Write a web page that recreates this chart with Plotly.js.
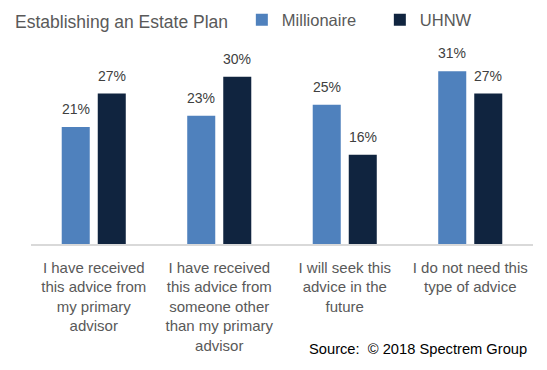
<!DOCTYPE html>
<html>
<head>
<meta charset="utf-8">
<script src="https://cdn.plot.ly/plotly-3.0.1.min.js"></script>
<style>html,body{margin:0;padding:0;background:#fff;}#chart{width:547px;height:370px;}</style>
</head>
<body>
<div id="chart"></div>
<script>
var categories = ["cat1", "cat2", "cat3", "cat4"];
var tickLabels = [
  "I have received<br>this advice from<br>my primary<br>advisor",
  "I have received<br>this advice from<br>someone other<br>than my primary<br>advisor",
  "I will seek this<br>advice in the<br>future",
  "I do not need this<br>type of advice"
];
var seriesNames = ["Millionaire", "UHNW"];
var millionaire = [21, 23, 25, 31];
var uhnw = [27, 30, 16, 27];
var titleText = "Establishing an Estate Plan";
var sourceText = "Source:\u00a0\u00a0\u00a9 2018 Spectrem Group";

var colors = ["#4F81BD", "#10243F"];
var FONT = "Liberation Sans, Arial, sans-serif";

var traces = [
  {type: "bar", name: seriesNames[0], x: categories, y: millionaire, marker: {color: colors[0]}, hoverinfo: "none"},
  {type: "bar", name: seriesNames[1], x: categories, y: uhnw, marker: {color: colors[1]}, hoverinfo: "none"}
];

var annotations = [];
[millionaire, uhnw].forEach(function (vals, si) {
  vals.forEach(function (v, i) {
    annotations.push({
      xref: "x", yref: "y", x: categories[i], y: v,
      text: v + "%", showarrow: false, yanchor: "bottom",
      xshift: si === 0 ? -18 : 18, yshift: 8,
      font: {family: FONT, size: 14, color: "#404040"}
    });
  });
});
annotations.push({
  xref: "paper", yref: "paper", x: 0.992, y: -0.54, xanchor: "right", yanchor: "middle",
  text: sourceText, showarrow: false,
  font: {family: FONT, size: 14.7, color: "#000000"}
});

var layout = {
  width: 547, height: 370,
  margin: {l: 31, r: 14, t: 49, b: 125.5, pad: 0, autoexpand: false},
  paper_bgcolor: "#ffffff", plot_bgcolor: "#ffffff",
  font: {family: FONT, color: "#595959"},
  title: {
    text: titleText, xref: "container", yref: "container",
    x: 15 / 547, xanchor: "left", y: 1 - 22 / 370, yanchor: "middle",
    font: {family: FONT, size: 17.5, color: "#595959"}
  },
  showlegend: true,
  legend: {
    orientation: "h", x: 0.42, xanchor: "left",
    yref: "container", y: 1 - 20 / 370, yanchor: "middle",
    entrywidth: 93, entrywidthmode: "pixels",
    font: {family: FONT, size: 16.5, color: "#595959"},
    traceorder: "normal", bgcolor: "rgba(0,0,0,0)"
  },
  barmode: "group", bargap: 0.426, bargroupgap: 0.222,
  xaxis: {
    type: "category", tickmode: "array", tickvals: categories, ticktext: tickLabels,
    showline: true, linecolor: "#D9D9D9", linewidth: 1.5, ticks: "",
    ticklabelstandoff: 9,
    showgrid: false, zeroline: false, automargin: false,
    tickfont: {family: FONT, size: 15, color: "#595959"}, fixedrange: true
  },
  yaxis: {
    range: [0, 35], visible: false, showgrid: false, zeroline: false, fixedrange: true, automargin: false
  },
  annotations: annotations
};

Plotly.newPlot("chart", traces, layout, {displayModeBar: false, staticPlot: true});
</script>
</body>
</html>
